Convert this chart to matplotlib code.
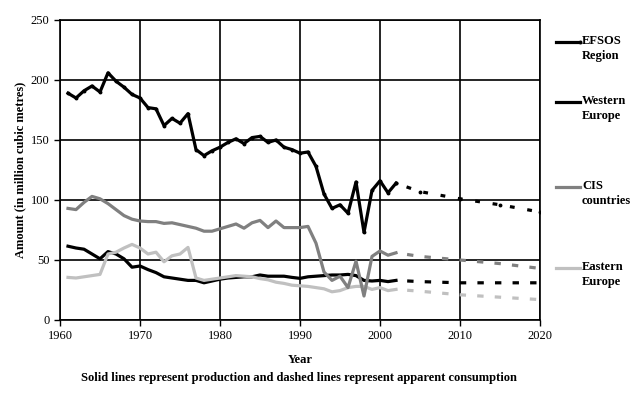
import matplotlib
matplotlib.use("Agg")
import matplotlib.pyplot as plt
from matplotlib.lines import Line2D

plt.rcParams['font.family'] = ['Liberation Serif', 'DejaVu Serif']

# production, 1961-2002
years = list(range(1961, 2003))
efsos = [189, 185, 191, 195, 190, 206, 199, 194, 188, 185, 177, 176, 162, 168, 164, 172,
         142, 137, 141, 144, 148, 151, 147, 152, 153, 148, 150, 144, 142, 139, 140, 128,
         105, 93, 96, 89, 115, 73, 108, 116, 106, 114]
western = [61.5, 60, 59, 55, 51, 57, 55, 51, 44, 45, 42, 39.5, 36, 35, 34, 33,
           33, 31, 32.5, 34, 35, 35.5, 36, 36, 37.5, 36.5, 36.5, 36.5, 35.5, 34.7, 36, 36.5,
           37, 37.5, 37.5, 38, 37, 33, 32.5, 33, 32, 33]
cis = [93, 92, 98, 103, 101, 97, 92, 87, 84, 82.5, 82, 82, 80.5, 81, 79.5, 78,
       76.5, 74, 74, 76, 78, 80, 76.5, 81, 83, 77, 82.5, 77, 77, 77, 78, 64,
       40, 33, 36.5, 27, 49, 20, 53, 57.5, 54, 56]
eastern = [35.5, 35, 36, 37, 38, 55, 56.5, 60, 63, 60, 55, 56.5, 48.5, 53.5, 55, 60.5,
           35, 33, 34, 35, 36, 37, 36.5, 36, 34.5, 33.5, 31.5, 30.5, 29, 28.5, 28, 27,
           26, 23.5, 24.5, 27, 28, 28, 25.5, 27, 24.5, 25.5]

# apparent consumption projections
proj_years = [2002, 2005, 2010, 2015, 2020]
efsos_proj = [114, 107, 101, 96, 90]
western_proj = [33, 32, 31, 31, 31]
cis_proj = [56, 53, 50, 47, 43]
eastern_proj = [25.5, 24, 21, 19, 17]

names = ["EFSOS\nRegion", "Western\nEurope", "CIS\ncountries", "Eastern\nEurope"]
colors = ["black", "black", "#808080", "#c0c0c0"]

fig = plt.figure(figsize=(6.42, 3.94), dpi=100)
ax = fig.add_axes([60 / 642, 74 / 394, 480 / 642, 300 / 394])

lw = 2.3
ax.plot(years, western, color=colors[1], lw=lw)
ax.plot(years, eastern, color=colors[3], lw=lw)
ax.plot(years, cis, color=colors[2], lw=lw)
ax.plot(years, efsos, color=colors[0], lw=lw, marker='o', ms=1.8)

dash = (2, (2, 3.5))
ax.plot(proj_years, western_proj, color=colors[1], lw=lw, ls=dash)
ax.plot(proj_years, cis_proj, color=colors[2], lw=lw, ls=dash)
ax.plot(proj_years, eastern_proj, color=colors[3], lw=lw, ls=dash)
ax.plot(proj_years, efsos_proj, color=colors[0], lw=lw, ls=(2, (1.5, 4)), marker='o', ms=1.8)

ax.set_xlim(1960, 2020)
ax.set_ylim(0, 250)
ax.set_xticks(range(1960, 2021, 10))
ax.set_yticks(range(0, 251, 50))
ax.grid(True, color='black', lw=1.2)
for s in ax.spines.values():
    s.set_linewidth(1.2)
ax.tick_params(labelsize=9, length=4, width=1, direction='out')

ax.set_xlabel("Year", fontsize=9, fontweight='bold', labelpad=8)
ax.set_ylabel("Amount (in million cubic metres)", fontsize=9, fontweight='bold', labelpad=3)
fig.text(0.465, (394 - 378) / 394, "Solid lines represent production and dashed lines represent apparent consumption",
         ha='center', va='center', fontsize=9, fontweight='bold')

# legend on the right
leg_y = [42, 102, 187, 268]
for name, c, y in zip(names, colors, leg_y):
    yf = (394 - y) / 394
    if name.startswith("EFSOS"):
        fig.add_artist(Line2D([556 / 642, 580 / 642], [yf, yf], color=c, lw=lw,
                              marker='o', ms=1.8, markevery=[1]))
    else:
        fig.add_artist(Line2D([556 / 642, 580 / 642], [yf, yf], color=c, lw=lw))
    fig.text(582 / 642, yf + 7 / 394, name, ha='left', va='top', fontsize=9,
             fontweight='bold', linespacing=1.35)

fig.savefig("out.png", dpi=100)
